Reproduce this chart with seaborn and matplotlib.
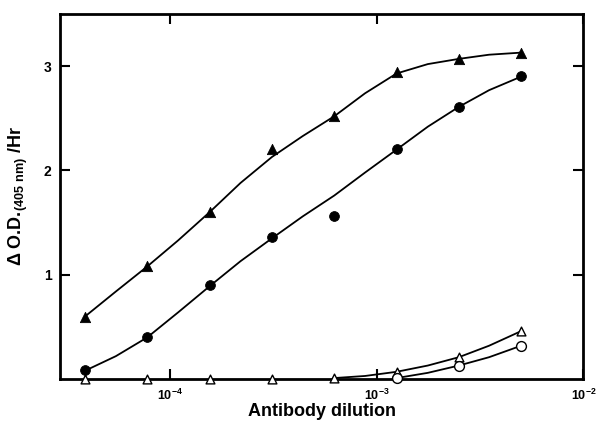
import matplotlib
matplotlib.use("Agg")
import matplotlib.pyplot as plt
import seaborn as sns
import pandas as pd

# Two-fold antibody dilutions
dilution = [3.9e-5, 7.8e-5, 1.56e-4, 3.125e-4, 6.25e-4, 1.25e-3, 2.5e-3, 5e-3]

# Measured points
filled_tri = [0.60, 1.08, 1.60, 2.21, 2.52, 2.94, 3.07, 3.13]
filled_circ = [0.09, 0.40, 0.90, 1.36, 1.56, 2.21, 2.61, 2.91]
open_tri = [0.0, 0.0, 0.0, 0.0, 0.01, 0.07, 0.21, 0.46]
open_circ_x = [1.25e-3, 2.5e-3, 5e-3]
open_circ = [0.01, 0.13, 0.32]

# Fitted curves
curve_x = [3.9e-5, 5.5e-5, 7.8e-5, 1.1e-4, 1.56e-4, 2.2e-4, 3.125e-4, 4.4e-4,
           6.25e-4, 8.8e-4, 1.25e-3, 1.77e-3, 2.5e-3, 3.5e-3, 5e-3]
curve_tri = [0.60, 0.84, 1.08, 1.33, 1.60, 1.88, 2.13, 2.33,
             2.52, 2.74, 2.93, 3.02, 3.07, 3.11, 3.13]
curve_circ = [0.08, 0.22, 0.40, 0.64, 0.89, 1.13, 1.35, 1.56,
              1.76, 1.98, 2.20, 2.42, 2.61, 2.77, 2.90]
low_x = [6.25e-4, 8.8e-4, 1.25e-3, 1.77e-3, 2.5e-3, 3.5e-3, 5e-3]
curve_open_tri = [0.01, 0.03, 0.07, 0.13, 0.21, 0.32, 0.46]
circ_low_x = [1.25e-3, 1.77e-3, 2.5e-3, 3.5e-3, 5e-3]
curve_open_circ = [0.01, 0.06, 0.13, 0.21, 0.32]

x_ticks = [1e-4, 1e-3, 1e-2]
x_tick_labels = [r"$\mathbf{10^{-4}}$", r"$\mathbf{10^{-3}}$", r"$\mathbf{10^{-2}}$"]
y_ticks = [1, 2, 3]

sns.set_style("ticks", {"axes.edgecolor": "black", "xtick.color": "black",
                        "ytick.color": "black", "text.color": "black",
                        "axes.labelcolor": "black"})
plt.rcParams["font.family"] = ["Liberation Sans", "DejaVu Sans"]
plt.rcParams["mathtext.fontset"] = "custom"
plt.rcParams["mathtext.bf"] = "Liberation Sans:bold"
plt.rcParams["mathtext.rm"] = "Liberation Sans"

fig = plt.figure(figsize=(5.99, 4.25), dpi=100)
ax = fig.add_axes([0.100, 0.108, 0.874, 0.859])

line_kw = dict(color="black", linewidth=1.3, ax=ax, legend=False)
sns.lineplot(x=curve_x, y=curve_tri, **line_kw)
sns.lineplot(x=curve_x, y=curve_circ, **line_kw)
sns.lineplot(x=low_x, y=curve_open_tri, **line_kw)
sns.lineplot(x=circ_low_x, y=curve_open_circ, **line_kw)

pts = pd.DataFrame({"x": dilution, "tri": filled_tri, "circ": filled_circ, "otri": open_tri})
sns.scatterplot(data=pts, x="x", y="tri", marker="^", s=55, color="black",
                edgecolor="black", ax=ax, zorder=3, clip_on=False)
sns.scatterplot(data=pts, x="x", y="circ", marker="o", s=50, color="black",
                edgecolor="black", ax=ax, zorder=3, clip_on=False)
sns.scatterplot(data=pts, x="x", y="otri", marker="^", s=40, color="white",
                edgecolor="black", linewidth=1.0, ax=ax, zorder=3, clip_on=False)
sns.scatterplot(x=open_circ_x, y=open_circ, marker="o", s=50, color="white",
                edgecolor="black", linewidth=1.0, ax=ax, zorder=3, clip_on=False)

ax.set_xscale("log")
ax.set_xlim(2.95e-5, 1e-2)
ax.set_ylim(0, 3.5)
ax.set_xticks(x_ticks)
ax.set_xticklabels(x_tick_labels)
ax.minorticks_off()
ax.set_yticks(y_ticks)
ax.set_yticklabels([str(v) for v in y_ticks], fontweight="bold")
ax.tick_params(axis="both", direction="in", length=7, width=1.5, labelsize=10,
               top=True, right=True, pad=6, colors="black")
ax.tick_params(axis="x", labelsize=9)

for sp in ax.spines.values():
    sp.set_linewidth(2)
    sp.set_color("black")
    sp.set_visible(True)

ax.set_xlabel("Antibody dilution", fontsize=13, fontweight="bold", labelpad=0)
ax.set_ylabel(r"Δ O.D.$_{\mathbf{(405\ nm)}}$ /Hr", fontsize=13, fontweight="bold",
              labelpad=10)

fig.savefig("out.png", dpi=100)
